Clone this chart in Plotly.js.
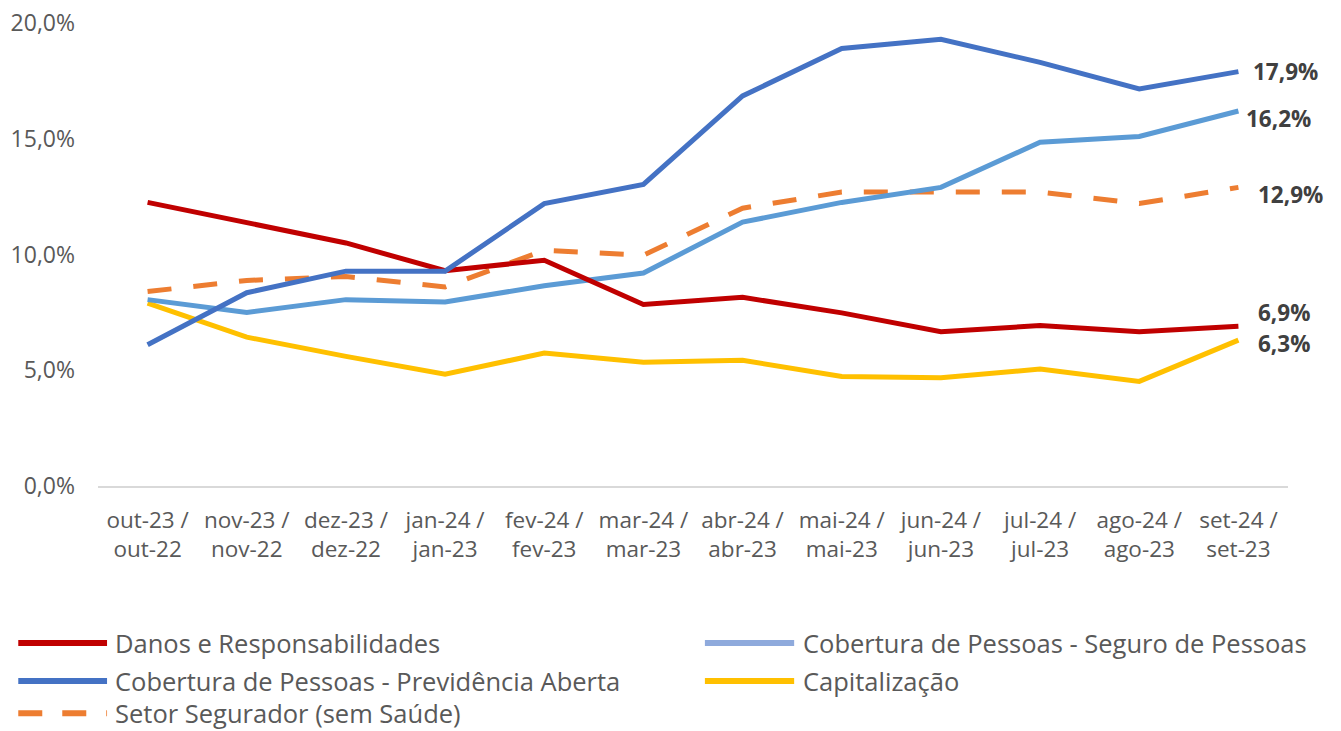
<!DOCTYPE html>
<html>
<head>
<meta charset="utf-8">
<script src="https://cdn.plot.ly/plotly-3.0.1.min.js"></script>
<style>html,body{margin:0;padding:0;background:#fff;}#chart{width:1341px;height:731px;}</style>
</head>
<body>
<div id="chart"></div>
<script>
const categories = ["out-23 /<br>out-22","nov-23 /<br>nov-22","dez-23 /<br>dez-22","jan-24 /<br>jan-23","fev-24 /<br>fev-23","mar-24 /<br>mar-23","abr-24 /<br>abr-23","mai-24 /<br>mai-23","jun-24 /<br>jun-23","jul-24 /<br>jul-23","ago-24 /<br>ago-23","set-24 /<br>set-23"];
const danos = [12.25, 11.4, 10.5, 9.3, 9.75, 7.84, 8.15, 7.48, 6.66, 6.93, 6.66, 6.9];
const previdencia = [6.1, 8.35, 9.28, 9.28, 12.2, 13.03, 16.85, 18.9, 19.3, 18.3, 17.15, 17.9];
const seguro = [8.05, 7.5, 8.05, 7.95, 8.65, 9.2, 11.4, 12.25, 12.9, 14.85, 15.1, 16.2];
const setor = [8.4, 8.88, 9.05, 8.6, 10.18, 9.97, 12.0, 12.7, 12.7, 12.7, 12.2, 12.9];
const capitalizacao = [7.9, 6.43, 5.6, 4.83, 5.74, 5.35, 5.43, 4.73, 4.68, 5.05, 4.52, 6.3];
const yTickVals = [0, 5, 10, 15, 20];
const yTickText = ["0,0%", "5,0%", "10,0%", "15,0%", "20,0%"];
const endLabels = {danos:"6,9%", previdencia:"17,9%", seguro:"16,2%", setor:"12,9%", capitalizacao:"6,3%"};
const names = {
  danos:"Danos e Responsabilidades",
  seguro:"Cobertura de Pessoas - Seguro de Pessoas",
  previdencia:"Cobertura de Pessoas - Previdência Aberta",
  capitalizacao:"Capitalização",
  setor:"Setor Segurador (sem Saúde)"
};

const FONT = "Open Sans, Noto Sans, sans-serif";
const GREY = "#595959";
const idx = categories.map((_, i) => i);

const series = [
  {key:"danos", y:danos, color:"#C00000", legendColor:"#C00000", dash:"solid", lx0:-0.067, lx1:0.0076, tx:0.0134, ly:-0.339, shiftY:14, shiftX:19},
  {key:"seguro", y:seguro, color:"#5B9BD5", legendColor:"#8FAADC", dash:"solid", lx0:0.510, lx1:0.585, tx:0.592, ly:-0.339, shiftY:-8, shiftX:7},
  {key:"previdencia", y:previdencia, color:"#4472C4", legendColor:"#4472C4", dash:"solid", lx0:-0.067, lx1:0.0076, tx:0.0134, ly:-0.421, shiftY:0, shiftX:14},
  {key:"capitalizacao", y:capitalizacao, color:"#FFC000", legendColor:"#FFC000", dash:"solid", lx0:0.510, lx1:0.585, tx:0.592, ly:-0.421, shiftY:-3, shiftX:19},
  {key:"setor", y:setor, color:"#ED7D31", legendColor:"#ED7D31", dash:"24px,22px", lx0:-0.067, lx1:0.0076, tx:0.0134, ly:-0.491, shiftY:-7, shiftX:19}
];

const drawOrder = ["setor","capitalizacao","seguro","danos","previdencia"];
const traces = drawOrder.map(k => {
  const s = series.find(t => t.key === k);
  return {
    type:"scatter", mode:"lines", x: idx, y: s.y, name: names[k],
    line:{color:s.color, width:5, dash:s.dash, shape:"linear"},
    showlegend:false, hoverinfo:"skip"
  };
});

const annotations = [];
const shapes = [];
series.forEach(s => {
  const last = s.y.length - 1;
  annotations.push({
    x: last, y: s.y[last], xref:"x", yref:"y", text:"<b>"+endLabels[s.key]+"</b>",
    showarrow:false, xanchor:"left", yanchor:"middle", xshift:s.shiftX, yshift:s.shiftY,
    font:{family:FONT, size:22.5, color:"#404040"}, borderpad:0
  });
  shapes.push({type:"line", xref:"paper", yref:"paper", x0:s.lx0, x1:s.lx1, y0:s.ly, y1:s.ly,
    line:{color:s.legendColor, width:6, dash: s.key==="setor" ? "24px,20px" : "solid"}});
  annotations.push({
    x: s.tx, y: s.ly, xref:"paper", yref:"paper", text:names[s.key],
    showarrow:false, xanchor:"left", yanchor:"middle",
    font:{family:FONT, size:25.5, color:GREY}, borderpad:0
  });
});

const layout = {
  width:1341, height:731,
  margin:{l:98, r:53, t:23, b:245},
  paper_bgcolor:"#ffffff", plot_bgcolor:"#ffffff",
  showlegend:false,
  font:{family:FONT, color:GREY},
  xaxis:{
    tickmode:"array", tickvals: idx, ticktext: categories,
    range:[-0.5, 11.5], showgrid:false, zeroline:false,
    showline:true, linecolor:"#D9D9D9", linewidth:2,
    ticks:"", tickfont:{family:FONT, size:22.5, color:GREY},
    ticklabelstandoff: 13, fixedrange:true
  },
  yaxis:{
    range:[0, 20], tickvals:yTickVals, ticktext:yTickText,
    showgrid:false, zeroline:false, showline:false, ticks:"",
    tickfont:{family:FONT, size:23, color:GREY}, ticklabelstandoff: 22, fixedrange:true
  },
  annotations: annotations,
  shapes: shapes
};

Plotly.newPlot("chart", traces, layout, {displayModeBar:false, staticPlot:true});
</script>
</body>
</html>
